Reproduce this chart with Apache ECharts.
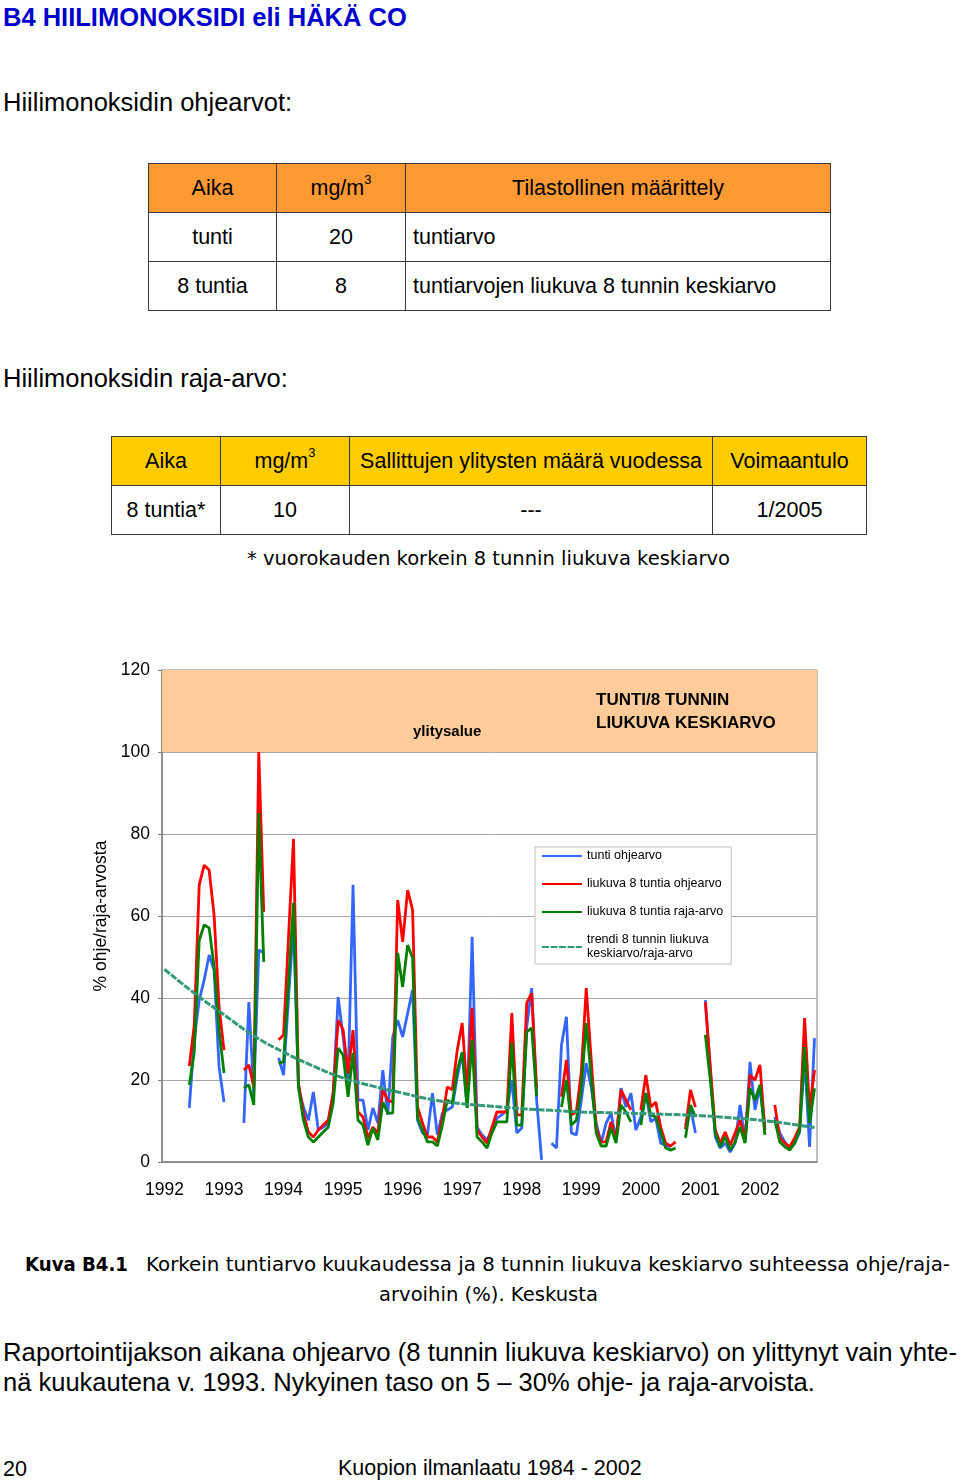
<!DOCTYPE html>
<html><head><meta charset="utf-8">
<script src="https://cdn.jsdelivr.net/npm/echarts@6/dist/echarts.min.js"></script>
<style>
html,body{margin:0;padding:0;background:#fff;}
body{width:960px;height:1484px;position:relative;overflow:hidden;font-family:'Liberation Sans',Arial,sans-serif;color:#000;}
.t{position:absolute;white-space:nowrap;line-height:1;}
.fit{display:inline-block;transform-origin:0 50%;white-space:nowrap;}
.comic{font-family:'DejaVu Sans',sans-serif;}
table{position:absolute;border-collapse:collapse;font-size:21.5px;}
td{border:1.5px solid #3a3a3a;height:48px;padding:0;text-align:center;vertical-align:middle;}
td.l{text-align:left;padding-left:7px;}
sup{font-size:13px;vertical-align:top;position:relative;top:-4px;}
#chart{position:absolute;left:0;top:620px;width:960px;height:600px;}
</style></head><body>

<div class="t" style="left:3px;top:4.5px;font-size:25.5px;font-weight:bold;color:#0000CC;">B4 HIILIMONOKSIDI eli HÄKÄ CO</div>
<div class="t" style="left:3px;top:90px;font-size:25.5px;">Hiilimonoksidin ohjearvot:</div>

<table style="left:148px;top:163px;">
<tr style="background:#FF9933"><td style="width:127px">Aika</td><td style="width:128px">mg/m<sup>3</sup></td><td style="width:424px">Tilastollinen määrittely</td></tr>
<tr><td>tunti</td><td>20</td><td class="l">tuntiarvo</td></tr>
<tr><td>8 tuntia</td><td>8</td><td class="l">tuntiarvojen liukuva 8 tunnin keskiarvo</td></tr>
</table>

<div class="t" style="left:3px;top:365.5px;font-size:25.5px;">Hiilimonoksidin raja-arvo:</div>

<table style="left:111px;top:436px;">
<tr style="background:#FFCC00"><td style="width:108px">Aika</td><td style="width:128px">mg/m<sup>3</sup></td><td style="width:362px">Sallittujen ylitysten määrä vuodessa</td><td style="width:153px">Voimaantulo</td></tr>
<tr><td>8 tuntia*</td><td>10</td><td>---</td><td>1/2005</td></tr>
</table>

<div class="t comic" style="left:247px;top:548px;font-size:20px;"><span class="fit" data-w="483">* vuorokauden korkein 8 tunnin liukuva keskiarvo</span></div>

<div id="chart"></div>

<div class="t comic" style="left:25px;top:1254px;font-size:20px;font-weight:bold;"><span class="fit" data-w="103">Kuva B4.1</span></div>
<div class="t comic" style="left:146px;top:1254px;font-size:20px;"><span class="fit" data-w="804">Korkein tuntiarvo kuukaudessa ja 8 tunnin liukuva keskiarvo suhteessa ohje/raja-</span></div>
<div class="t comic" style="left:379px;top:1284px;font-size:20px;"><span class="fit" data-w="219">arvoihin (%). Keskusta</span></div>

<div class="t" style="left:3px;top:1339.5px;font-size:25.5px;"><span class="fit" data-w="954">Raportointijakson aikana ohjearvo (8 tunnin liukuva keskiarvo) on ylittynyt vain yhte-</span></div>
<div class="t" style="left:3px;top:1369.5px;font-size:25.5px;">nä kuukautena v. 1993. Nykyinen taso on 5 – 30% ohje- ja raja-arvoista.</div>

<div class="t" style="left:3px;top:1459px;font-size:21.5px;">20</div>
<div class="t" style="left:338px;top:1457.5px;font-size:21.5px;">Kuopion ilmanlaatu 1984 - 2002</div>

<script>
// fit comic-like text widths
document.querySelectorAll('.fit').forEach(function(el){
  var w = el.getBoundingClientRect().width, tw = +el.dataset.w;
  if (w > 0) el.style.transform = 'scaleX(' + (tw / w) + ')';
});

// ---------------- DATA ----------------
var years = ['1992','1993','1994','1995','1996','1997','1998','1999','2000','2001','2002'];
var yTicks = [0, 20, 40, 60, 80, 100, 120];

// tunti ohjearvo (%), monthly, 12 per row
var tuntiOhje = [
 null,null,null,null,null,13.2,29.8,39.5,44.4,50.5,46.8,23.2,
 14.6,null,null,null,9.5,39.0,16.8,51.7,51.0,null,null,25.4,
 21.2,40,58,18.3,13.4,10.2,17.1,7.8,8.5,9.5,16.8,40.2,
 30.5,19.3,67.6,15.1,15.1,7.8,13.2,9.5,22.4,11.5,30.5,34.6,
 30.5,36.3,42.0,10.2,7.1,6.6,16.8,6.6,11.9,12.7,13.4,20.7,
 26.6,13.4,54.9,8.5,6.6,5.4,7.8,10.7,11.5,12.7,20,7.1,
 8.3,33,42.4,15.1,0.5,null,4.6,3.4,28.5,35.4,7.1,6.6,
 15.1,24.1,18.3,9.5,4.6,9.5,11.9,5.4,18.0,13.4,16.8,7.8,
 11.0,16.8,9.8,10.7,4.6,4.1,3.7,null,null,9,13.4,7.1,
 null,39.5,22.4,6.1,3.4,4.6,2.4,4.6,13.9,5.0,24.4,12.7,
 18.3,8.5,null,11.0,7.1,4.9,3.4,4.6,7.3,25.6,3.7,30.2
];
// liukuva 8 tuntia ohjearvo (%)
var liukuvaOhje = [
 null,null,null,null,null,23.4,33.4,67.6,72.4,71.2,60.2,37.8,
 27.3,null,null,null,22.4,23.7,18.3,100,61.0,null,null,29.8,
 31.0,55,78.8,19.3,11.9,7.3,6.1,7.8,9.0,10.2,16.8,34.6,
 32.2,21.7,32.2,12.2,11.0,5.9,8.5,7.1,17.6,15.1,14.6,63.9,
 53.7,66.3,61.5,13.4,9.5,6.1,6.1,4.9,10.7,18.3,17.6,27.3,
 33.9,16.8,37.6,7.8,6.1,4.6,8.5,12.2,12.2,12.2,36.3,11.5,
 11.5,38.8,41.2,18,null,null,null,null,15.9,24.9,11.5,12.2,
 22,42.4,24.9,8.3,4.9,4.9,9.8,5.4,17.6,15.1,12.7,null,
 12.7,21.2,13.4,14.6,8.5,4.6,3.9,4.9,null,8,17.6,13.4,
 null,39.0,23.2,7.8,4.6,7.3,4.1,7.1,10.2,5.4,21.2,20.0,
 23.7,7.8,null,13.9,5.9,4.6,3.7,5.9,8.5,35.1,12.7,22.4
];
// liukuva 8 tuntia raja-arvo (%)
var liukuvaRaja = [
 null,null,null,null,null,18.8,26.8,54.1,57.8,57.1,47.6,32.2,
 21.7,null,null,null,18.0,18.8,13.9,85.1,48.8,null,null,24.1,
 24.4,43.9,63.2,18.3,10.2,6.1,4.9,6.1,7.3,8.5,14.4,27.8,
 26.1,15.9,26.6,10.2,9.0,4.1,8.3,5.4,14.6,11.9,11.9,51.0,
 42.7,52.9,49.8,10.7,7.8,4.9,4.9,3.9,9.0,15.1,14.4,22.4,
 26.8,13.2,29.8,6.1,4.9,3.4,7.1,9.8,9.8,9.8,29.0,9.0,
 9.0,31.7,32.7,16,null,null,null,null,13.4,20.0,9.0,10.2,
 18,33.9,20.7,7.1,3.9,3.9,8.3,4.6,13.9,12.2,9.8,null,
 9.0,16.8,11.5,11.0,7.1,3.4,2.9,3.4,null,5.9,13.9,11.0,
 null,31.0,20.0,7.1,3.7,6.1,2.9,4.9,8.5,4.6,18.0,15.1,
 18.8,6.6,null,10.2,4.9,3.7,2.9,4.6,7.8,28.0,9.5,18.0
];
// trendline read at these month indexes
var trendIdx = [0,6,12,18,24,30,36,42,48,54,60,66,72,78,84,90,96,102,108,114,120,126,131];
var trendVal = [47,41.2,35.9,30.8,26.8,23.4,20.5,18.5,16.8,15.2,14.2,13.6,13.0,12.6,12.2,12.0,11.8,11.6,11.3,10.8,10.2,9.3,8.4];

var seriesNames = ['tunti ohjearvo','liukuva 8 tuntia ohjearvo','liukuva 8 tuntia raja-arvo','trendi 8 tunnin liukuva\nkeskiarvo/raja-arvo'];

// month categories built from years
var months = [];
years.forEach(function(y){ for (var m = 1; m <= 12; m++) months.push(y + '-' + (m < 10 ? '0' : '') + m); });

var FONT = "'Liberation Sans', Arial, sans-serif";
var chart = echarts.init(document.getElementById('chart'), null, {renderer: 'canvas'});
chart.setOption({
  animation: false,
  textStyle: {fontFamily: FONT},
  grid: {left: 162, right: 143, top: 50, bottom: 58, show: true, borderColor: '#808080', borderWidth: 1},
  xAxis: {
    type: 'category', data: months, boundaryGap: true,
    axisLine: {lineStyle: {color: '#808080', width: 1.5}},
    axisTick: {show: false},
    axisLabel: {interval: 11, margin: 19, fontSize: 17.5, color: '#000', fontFamily: FONT,
      formatter: function(v){ return v.slice(0, 4); }},
    splitLine: {show: false}
  },
  yAxis: {
    type: 'value', min: yTicks[0], max: yTicks[yTicks.length - 1], interval: 20,
    name: '% ohje/raja-arvosta', nameLocation: 'middle', nameGap: 52,
    nameTextStyle: {fontSize: 17.5, color: '#000', fontFamily: FONT},
    axisLine: {show: true, lineStyle: {color: '#808080', width: 1.5}},
    axisTick: {show: true, length: 4, lineStyle: {color: '#808080'}},
    axisLabel: {margin: 12, fontSize: 17.5, color: '#000', fontFamily: FONT},
    splitLine: {lineStyle: {color: '#a6a6a6', width: 1}}
  },
  legend: {
    orient: 'vertical', left: 535, top: 227,
    data: seriesNames,
    itemWidth: 40, itemHeight: 12, itemGap: 14,
    padding: [2, 8, 3, 6],
    itemStyle: {opacity: 0},
    borderColor: '#bfbfbf', borderWidth: 1, backgroundColor: '#fff',
    textStyle: {fontSize: 12.5, lineHeight: 14, color: '#000', fontFamily: FONT}
  },
  graphic: [
    {type: 'text', left: 596, top: 69, z: 100, silent: true,
     style: {text: 'TUNTI/8 TUNNIN\nLIUKUVA KESKIARVO', font: "bold 17px 'Liberation Sans', Arial, sans-serif", lineHeight: 23, fill: '#000'}},
    {type: 'text', left: 413, top: 103, z: 100, silent: true,
     style: {text: 'ylitysalue', font: "bold 15px 'Liberation Sans', Arial, sans-serif", lineHeight: 17, fill: '#000'}}
  ],
  series: [
    {name: seriesNames[0], type: 'line', data: tuntiOhje, symbol: 'none', connectNulls: false,
     lineStyle: {color: '#3366FF', width: 2.8}, itemStyle: {color: '#3366FF'}, z: 2,
     markArea: {silent: true, itemStyle: {color: '#FFCC99'}, data: [[{yAxis: 100}, {yAxis: 120}]]}},
    {name: seriesNames[1], type: 'line', data: liukuvaOhje, symbol: 'none', connectNulls: false,
     lineStyle: {color: '#FF0000', width: 2.8}, itemStyle: {color: '#FF0000'}, z: 3},
    {name: seriesNames[2], type: 'line', data: liukuvaRaja, symbol: 'none', connectNulls: false,
     lineStyle: {color: '#008000', width: 2.8}, itemStyle: {color: '#008000'}, z: 4},
    {name: seriesNames[3], type: 'line', symbol: 'none', smooth: true, connectNulls: true,
     data: trendIdx.map(function(i, k){ return [i, trendVal[k]]; }),
     lineStyle: {color: '#339977', width: 3, type: [7, 1.5]}, itemStyle: {color: '#339977'}, z: 5}
  ]
});
</script>
</body></html>
